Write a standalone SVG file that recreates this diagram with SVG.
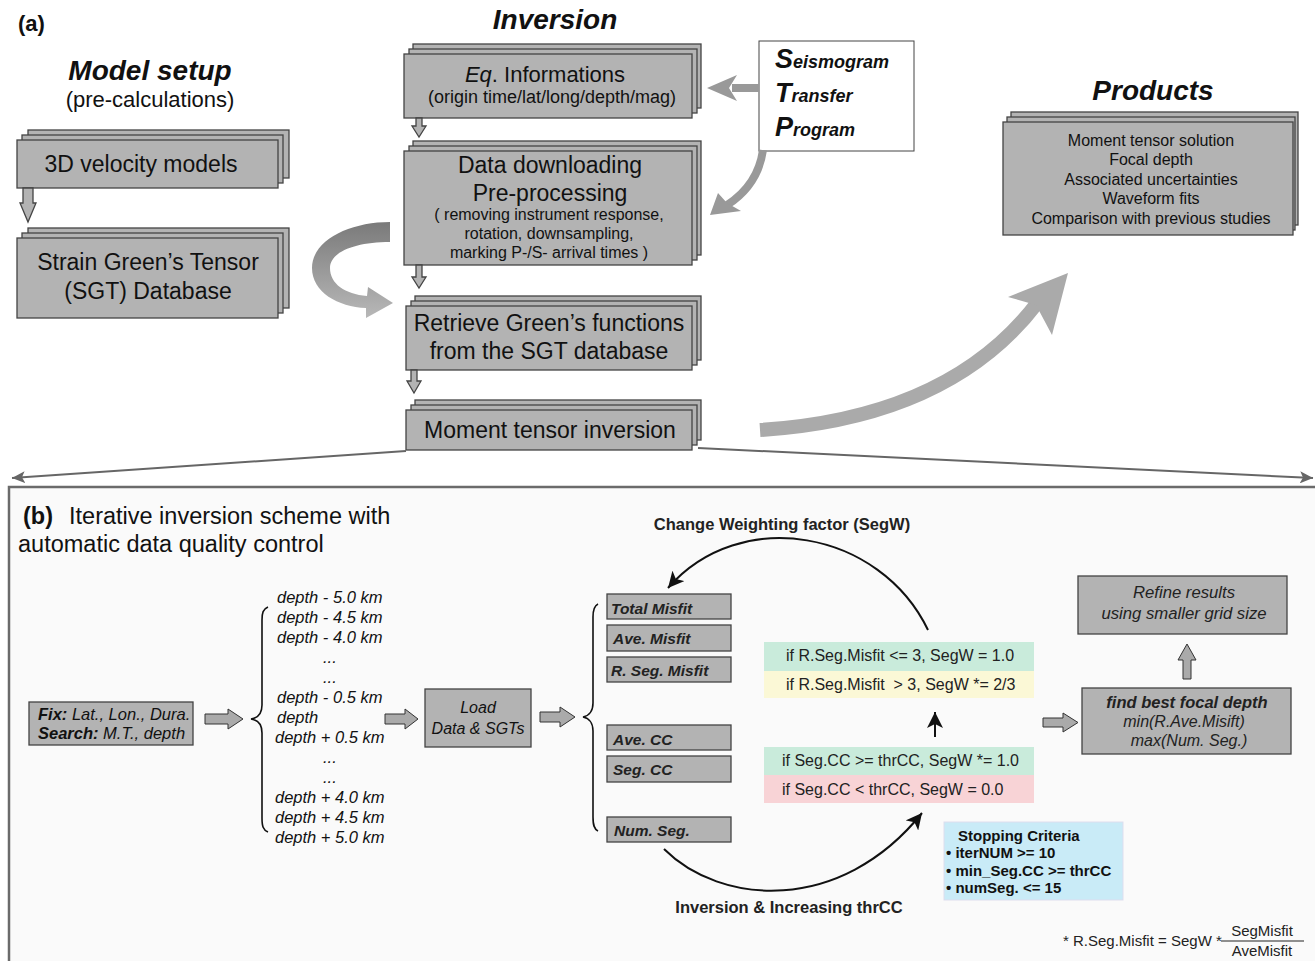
<svg xmlns="http://www.w3.org/2000/svg" width="1315" height="961" viewBox="0 0 1315 961">
<style>
text{font-family:"Liberation Sans",Arial,sans-serif;fill:#111}
.box{fill:#b3b3b3;stroke:#444;stroke-width:1.3}
.wbox{fill:#fff;stroke:#444;stroke-width:1}
.h{font-size:28px;font-weight:bold;font-style:italic;text-anchor:middle}
.t23{font-size:23px;text-anchor:middle}
.t16{font-size:16px;text-anchor:middle}
.it{font-style:italic}
.bi{font-weight:bold;font-style:italic}
.met{font-size:15.5px;font-weight:bold;font-style:italic;fill:#222}
.cond{font-size:16px;fill:#222}
.sc{font-size:15px;font-weight:bold;fill:#111}
.garr{fill:#aaa;stroke:#333;stroke-width:1}
.brace{fill:none;stroke:#111;stroke-width:1.6}
.curve{fill:none;stroke:#111;stroke-width:2}
</style>
<defs>
<marker id="blk" markerUnits="userSpaceOnUse" markerWidth="18" markerHeight="16" refX="16" refY="8" orient="auto">
<path d="M0,0 L16,8 L0,16 L4,8 Z" fill="#111"/>
</marker>
<marker id="gry" markerUnits="userSpaceOnUse" markerWidth="14" markerHeight="12" refX="13" refY="6" orient="auto">
<path d="M0,0 L13,6 L0,12 L3,6 Z" fill="#666"/>
</marker>
<linearGradient id="ug" x1="0" y1="0" x2="0" y2="1">
<stop offset="0" stop-color="#7a7a7a"/>
<stop offset="1" stop-color="#b8b8b8"/>
</linearGradient>
</defs>

<rect x="0" y="0" width="1315" height="961" fill="#fff"/>

<!-- panel b frame -->
<rect x="9" y="487" width="1330" height="500" fill="#fafafa" stroke="#6b6b6b" stroke-width="2.5"/>

<text x="18" y="31" style="font-size:22px;font-weight:bold">(a)</text>
<text class="h" x="150" y="80">Model setup</text>
<text x="150" y="107" style="font-size:22px;text-anchor:middle">(pre-calculations)</text>
<text class="h" x="555" y="29">Inversion</text>
<text class="h" x="1153" y="100">Products</text>

<g id="velocity">
<rect class="box" x="28" y="130" width="261" height="48"/>
<rect class="box" x="22" y="135" width="261" height="48"/>
<rect class="box" x="17" y="140" width="261" height="48"/>
<text class="t23" x="141" y="172">3D velocity models</text>
</g>
<g id="sgt">
<rect class="box" x="28" y="228" width="261" height="80"/>
<rect class="box" x="22" y="233" width="261" height="80"/>
<rect class="box" x="17" y="238" width="261" height="80"/>
<text class="t23" x="148" y="270">Strain Green’s Tensor</text>
<text class="t23" x="148" y="299">(SGT) Database</text>
</g>
<g id="eq">
<rect class="box" x="413" y="44" width="288" height="64"/>
<rect class="box" x="409" y="49" width="288" height="64"/>
<rect class="box" x="404" y="54" width="288" height="64"/>
<text x="545" y="82" style="font-size:22px;text-anchor:middle"><tspan font-style="italic">Eq</tspan>. Informations</text>
<text x="552" y="103" style="font-size:18px;text-anchor:middle">(origin time/lat/long/depth/mag)</text>
</g>
<g id="data">
<rect class="box" x="413" y="141" width="288" height="114"/>
<rect class="box" x="409" y="146" width="288" height="114"/>
<rect class="box" x="404" y="151" width="288" height="114"/>
<text class="t23" x="550" y="173">Data downloading</text>
<text class="t23" x="550" y="201">Pre-processing</text>
<text class="t16" x="549" y="220">( removing instrument response,</text>
<text class="t16" x="549" y="239">rotation, downsampling,</text>
<text class="t16" x="549" y="258">marking P-/S- arrival times )</text>
</g>
<g id="retrieve">
<rect class="box" x="415" y="296" width="286" height="64"/>
<rect class="box" x="411" y="301" width="286" height="64"/>
<rect class="box" x="406" y="306" width="286" height="64"/>
<text class="t23" x="549" y="331">Retrieve Green’s functions</text>
<text class="t23" x="549" y="359">from the SGT database</text>
</g>
<g id="moment">
<rect class="box" x="415" y="400" width="286" height="40"/>
<rect class="box" x="411" y="405" width="286" height="40"/>
<rect class="box" x="406" y="410" width="286" height="40"/>
<text class="t23" x="550" y="438">Moment tensor inversion</text>
</g>
<g id="stp">
<rect class="wbox" x="759" y="41" width="155" height="110"/>
<text x="775" y="68" class="bi" style="font-size:18px"><tspan style="font-size:27px">S</tspan>eismogram</text>
<text x="775" y="102" class="bi" style="font-size:18px"><tspan style="font-size:27px">T</tspan>ransfer</text>
<text x="775" y="136" class="bi" style="font-size:18px"><tspan style="font-size:27px">P</tspan>rogram</text>
</g>
<g id="products">
<rect class="box" x="1011" y="112" width="287" height="113"/>
<rect class="box" x="1007" y="117" width="288" height="113"/>
<rect class="box" x="1003" y="122" width="290" height="113"/>
<text class="t16" x="1151" y="146">Moment tensor solution</text>
<text class="t16" x="1151" y="165">Focal depth</text>
<text class="t16" x="1151" y="185">Associated uncertainties</text>
<text class="t16" x="1151" y="204">Waveform fits</text>
<text class="t16" x="1151" y="224">Comparison with previous studies</text>
</g>

<g id="connectors-a">
<polygon class="box" points="23,188 33,188 33,203 36,203 28,222 20,203 23,203"/>
<polygon class="box" points="416,118 422,118 422,126 426,126 419,137 412,126 416,126"/>
<polygon class="box" points="416,265 422,265 422,277 426,277 419,288 412,277 416,277"/>
<polygon class="box" points="411,370 417,370 417,381 421,381 414,393 407,381 411,381"/>
<path d="M759,88 L732,88" stroke="#999" stroke-width="8" fill="none"/>
<polygon points="707,88 737,75 729,88 737,101" fill="#999"/>
<path d="M763,150 Q758,185 727,205" stroke="#999" stroke-width="8" fill="none"/>
<polygon points="710,215 718,193 727,203 741,211" fill="#999"/>
<path d="M390,222 C350,222 312,240 312,268 C312,292 338,307 366,308 L366,318 L393,303 L368,287 L367,296 C345,294 330,284 330,268 C330,252 355,242 390,242 Z" fill="url(#ug)"/>
<path d="M760,430 Q950,418 1038,302" stroke="#aaa" stroke-width="14" fill="none"/>
<polygon points="1068,273 1008,297 1036,305 1052,335" fill="#aaa"/>
<path d="M406,451 L12,478" stroke="#666" stroke-width="2" fill="none" marker-end="url(#gry)"/>
<path d="M698,448 L1313,478" stroke="#666" stroke-width="2" fill="none" marker-end="url(#gry)"/>
</g>

<text x="23" y="524" style="font-size:23.5px;font-weight:bold">(b)</text>
<text x="69" y="524" style="font-size:23.5px">Iterative inversion scheme with</text>
<text x="18" y="552" style="font-size:23.5px">automatic data quality control</text>

<g id="fix">
<rect class="box" x="29" y="702" width="164" height="43"/>
<text x="38" y="720" style="font-size:16.5px" class="it"><tspan font-weight="bold">Fix:</tspan> Lat., Lon., Dura.</text>
<text x="38" y="739" style="font-size:16.5px" class="it"><tspan font-weight="bold">Search:</tspan> M.T., depth</text>
</g>

<g id="depths" style="font-size:16.5px;font-style:italic">
<text x="277" y="603">depth - 5.0 km</text>
<text x="277" y="623">depth - 4.5 km</text>
<text x="277" y="643">depth - 4.0 km</text>
<text x="323" y="663">...</text>
<text x="323" y="683">...</text>
<text x="277" y="703">depth - 0.5 km</text>
<text x="277" y="723">depth</text>
<text x="275" y="743">depth + 0.5 km</text>
<text x="323" y="763">...</text>
<text x="323" y="783">...</text>
<text x="275" y="803">depth + 4.0 km</text>
<text x="275" y="823">depth + 4.5 km</text>
<text x="275" y="843">depth + 5.0 km</text>
</g>

<g id="load">
<rect class="box" x="425" y="689" width="106" height="58"/>
<text x="478" y="713" class="t16 it">Load</text>
<text x="478" y="734" class="t16 it">Data &amp; SGTs</text>
</g>

<g id="metrics">
<rect class="box" x="607" y="594" width="124" height="25"/>
<text class="met" x="611" y="614">Total Misfit</text>
<rect class="box" x="607" y="625" width="124" height="26"/>
<text class="met" x="613" y="644">Ave. Misfit</text>
<rect class="box" x="607" y="657" width="124" height="25"/>
<text class="met" x="611" y="676">R. Seg. Misfit</text>
<rect class="box" x="607" y="725" width="124" height="25"/>
<text class="met" x="613" y="745">Ave. CC</text>
<rect class="box" x="607" y="756" width="124" height="26"/>
<text class="met" x="613" y="775">Seg. CC</text>
<rect class="box" x="607" y="817" width="124" height="25"/>
<text class="met" x="614" y="836">Num. Seg.</text>
</g>

<g id="misfit-cond">
<rect x="764" y="642" width="270" height="29" fill="#c9ebdb"/>
<rect x="764" y="671" width="270" height="27" fill="#fbf8d6"/>
<text class="cond" x="786" y="661">if R.Seg.Misfit &lt;= 3, SegW = 1.0</text>
<text class="cond" x="786" y="690" xml:space="preserve">if R.Seg.Misfit  &gt; 3, SegW *= 2/3</text>
</g>
<g id="cc-cond">
<rect x="764" y="747" width="270" height="28" fill="#c9ebdb"/>
<rect x="764" y="775" width="270" height="28" fill="#f8d3d6"/>
<text class="cond" x="782" y="766">if Seg.CC &gt;= thrCC, SegW *= 1.0</text>
<text class="cond" x="782" y="795">if Seg.CC &lt; thrCC, SegW = 0.0</text>
</g>

<g id="stopping">
<rect x="944" y="822" width="179" height="78" fill="#c9ebf7" stroke="#dde" stroke-width="1"/>
<text class="sc" x="958" y="841">Stopping Criteria</text>
<text class="sc" x="946" y="858">• iterNUM &gt;= 10</text>
<text class="sc" x="946" y="876">• min_Seg.CC &gt;= thrCC</text>
<text class="sc" x="946" y="893">• numSeg. &lt;= 15</text>
</g>

<g id="best">
<rect class="box" x="1082" y="688" width="209" height="66"/>
<text x="1187" y="708" class="bi" style="font-size:16.5px;text-anchor:middle;fill:#222">find best focal depth</text>
<text x="1184" y="727" class="t16 it" style="font-size:16px;fill:#222">min(R.Ave.Misift)</text>
<text x="1189" y="746" class="t16 it" style="font-size:16px;fill:#222">max(Num. Seg.)</text>
</g>
<g id="refine">
<rect class="box" x="1078" y="576" width="209" height="58"/>
<text x="1184" y="598" class="t16 it" style="font-size:16.7px;fill:#222">Refine results</text>
<text x="1184" y="619" class="t16 it" style="font-size:16.7px;fill:#222">using smaller grid size</text>
</g>

<g id="labels-b">
<text x="782" y="530" style="font-size:16.5px;font-weight:bold;text-anchor:middle;fill:#222">Change Weighting factor (SegW)</text>
<text x="789" y="913" style="font-size:16.5px;font-weight:bold;text-anchor:middle;fill:#222">Inversion &amp; Increasing thrCC</text>
<text x="1063" y="946" style="font-size:15px;fill:#222">* R.Seg.Misfit = SegW *</text>
<line x1="1221" y1="941" x2="1304" y2="941" stroke="#222" stroke-width="1"/>
<text x="1262" y="936" style="font-size:15px;text-anchor:middle;fill:#222">SegMisfit</text>
<text x="1262" y="956" style="font-size:15px;text-anchor:middle;fill:#222">AveMisfit</text>
</g>

<g id="connectors-b">
<polygon class="garr" points="205,714 228,714 228,709 243,719 228,729 228,724 205,724"/>
<path class="brace" d="M268,607 C263,609 262,613 262,620 L262,705 C262,713 258,718 251,719 C258,720 262,725 262,733 L262,818 C262,826 263,830 268,832"/>
<polygon class="garr" points="385,714 405,714 405,709 418,719 405,729 405,724 385,724"/>
<polygon class="garr" points="540,712 560,712 560,707 575,717 560,727 560,722 540,722"/>
<path class="brace" d="M598,604 C594,606 593,610 593,617 L593,703 C593,711 589,716 583,717 C589,718 593,723 593,731 L593,817 C593,825 594,829 598,831"/>
<path class="curve" d="M928,630 C880,530 740,505 668,588" marker-end="url(#blk)"/>
<path class="curve" d="M664,849 C720,905 840,915 922,813" marker-end="url(#blk)"/>
<line x1="935" y1="737" x2="935" y2="712" stroke="#111" stroke-width="2" marker-end="url(#blk)"/>
<polygon class="garr" points="1043,718 1063,718 1063,713 1078,722.5 1063,732 1063,727 1043,727"/>
<polygon class="garr" points="1183,679 1191,679 1191,660 1196,660 1187,644 1178,660 1183,660"/>
</g>
</svg>
